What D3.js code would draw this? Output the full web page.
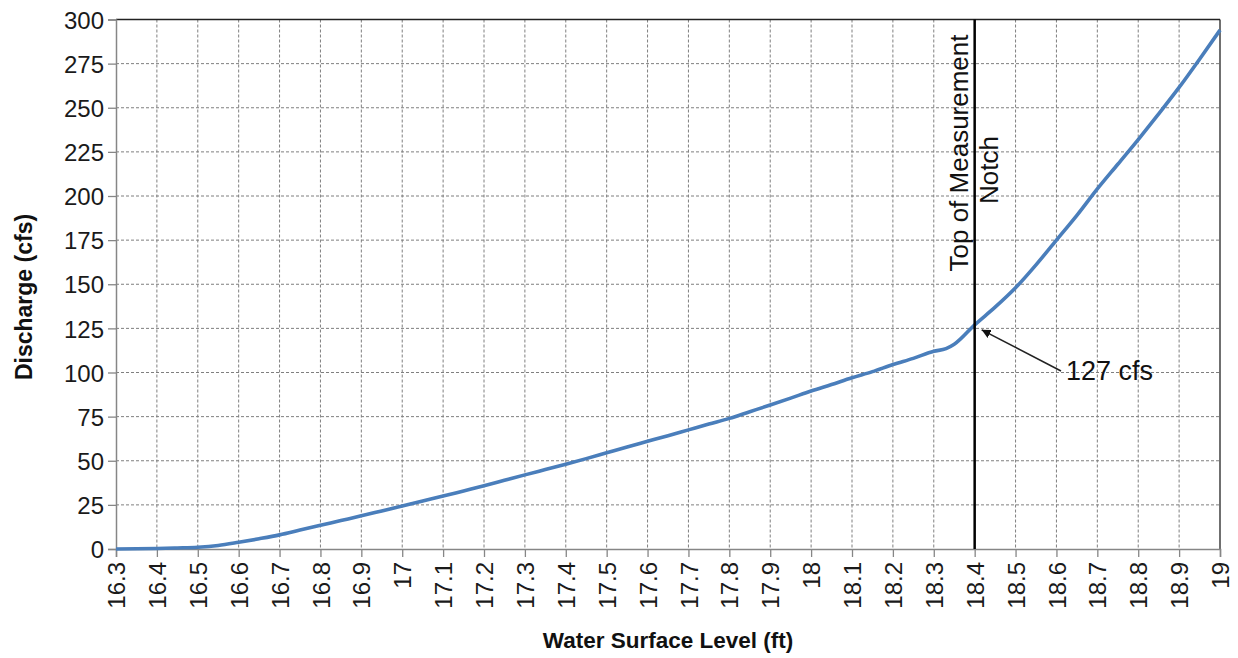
<!DOCTYPE html>
<html><head><meta charset="utf-8">
<script src="https://cdn.jsdelivr.net/npm/d3@7"></script>
<style>
html,body{margin:0;padding:0;background:#fff;}
svg{display:block;font-family:"Liberation Sans",Arial,sans-serif;}
</style></head>
<body>
<svg id="chart" width="1238" height="658"></svg>
<script>
// Data
const levels = [16.3,16.35,16.4,16.45,16.5,16.55,16.6,16.65,16.7,16.75,16.8,16.85,16.9,16.95,17.0,17.05,17.1,17.15,17.2,17.25,17.3,17.35,17.4,17.45,17.5,17.55,17.6,17.65,17.7,17.75,17.8,17.85,17.9,17.95,18.0,18.05,18.1,18.15,18.2,18.25,18.3,18.33,18.35,18.4,18.45,18.5,18.55,18.6,18.65,18.7,18.75,18.8,18.85,18.9,18.95,19.0];
const discharge = [0,0.1,0.3,0.6,1,2,3.8,5.8,8,10.7,13.4,16.1,18.8,21.6,24.4,27.2,30,32.9,35.8,38.9,42,45,48,51.2,54.5,57.8,61,64.2,67.5,70.8,74,77.8,81.6,85.5,89.5,93.2,97,100.5,104.5,108,112,113.5,116,127,137,148,161,175,189,204,218,232,246.5,261.5,277.5,294];
const xTicks = [16.3,16.4,16.5,16.6,16.7,16.8,16.9,17,17.1,17.2,17.3,17.4,17.5,17.6,17.7,17.8,17.9,18,18.1,18.2,18.3,18.4,18.5,18.6,18.7,18.8,18.9,19];
const yTicks = [0,25,50,75,100,125,150,175,200,225,250,275,300];
const notchLevel = [18.4];
const notchLabel = ["Top of Measurement","Notch"];
const annotation = {text:"127 cfs", x:18.4, y:127};

const svg = d3.select("#chart");
const L=116, R=1220, T=19.5, B=549;
const x = d3.scaleLinear().domain([16.3,19]).range([L,R]);
const y = d3.scaleLinear().domain([0,300]).range([B,T]);
const FONT = "'Liberation Sans',Arial,sans-serif";

// grid
const grid = svg.append("g");
grid.selectAll("line.v").data(xTicks.slice(1,-1)).enter().append("line")
  .attr("x1",d=>x(d)).attr("x2",d=>x(d)).attr("y1",T).attr("y2",B)
  .attr("stroke","#7f7f7f").attr("stroke-width",1).attr("stroke-dasharray","3,2");
grid.selectAll("line.h").data(yTicks.slice(1,-1)).enter().append("line")
  .attr("x1",L).attr("x2",R).attr("y1",d=>y(d)).attr("y2",d=>y(d))
  .attr("stroke","#7f7f7f").attr("stroke-width",1).attr("stroke-dasharray","3,2");

// top and right border
svg.append("line").attr("x1",L).attr("x2",R).attr("y1",T).attr("y2",T).attr("stroke","#222").attr("stroke-width",1.3);
svg.append("line").attr("x1",R).attr("x2",R).attr("y1",T).attr("y2",B).attr("stroke","#222").attr("stroke-width",1.3);

// axes
const yAxis = svg.append("g").attr("transform",`translate(${L},0)`)
  .call(d3.axisLeft(y).tickValues(yTicks).tickSize(8).tickPadding(4).tickFormat(d3.format("d")));
const xAxis = svg.append("g").attr("transform",`translate(0,${B})`)
  .call(d3.axisBottom(x).tickValues(xTicks).tickSize(8).tickFormat(d=>String(+d.toFixed(1))));
[yAxis,xAxis].forEach(a=>{
  a.select(".domain").attr("stroke","#868686").attr("stroke-width",1.5);
  a.selectAll(".tick line").attr("stroke","#868686").attr("stroke-width",1.3);
  a.selectAll("text").attr("fill","#1a1a1a").style("font-size","24px").style("font-family",FONT);
});
yAxis.selectAll("text").attr("dy","0.36em");
xAxis.selectAll("text")
  .attr("transform","rotate(-90)")
  .attr("text-anchor","end")
  .attr("x",-13).attr("y",0).attr("dy","0.36em");

// axis titles
svg.append("text").attr("transform",`translate(32,${297}) rotate(-90)`)
  .attr("text-anchor","middle").style("font-size","23px").style("font-weight","bold").attr("fill","#111")
  .text("Discharge (cfs)");
svg.append("text").attr("x",668).attr("y",648)
  .attr("text-anchor","middle").style("font-size","22.5px").style("font-weight","bold").attr("fill","#111")
  .text("Water Surface Level (ft)");

// curve
const pts = levels.map((l,i)=>[l,discharge[i]]);
svg.append("path").datum(pts)
  .attr("fill","none").attr("stroke","#4a7ebb").attr("stroke-width",3.6).attr("stroke-linejoin","round")
  .attr("d",d3.line().x(d=>x(d[0])).y(d=>y(d[1])).curve(d3.curveMonotoneX));

// notch line
svg.selectAll("line.notch").data(notchLevel).enter().append("line")
  .attr("x1",d=>x(d)).attr("x2",d=>x(d)).attr("y1",T).attr("y2",B)
  .attr("stroke","#000").attr("stroke-width",2.5);
const nx = x(notchLevel[0]);
svg.append("text").attr("transform",`translate(${nx-7},153) rotate(-90)`)
  .attr("text-anchor","middle").style("font-size","26px").attr("fill","#111").text(notchLabel[0]);
svg.append("text").attr("transform",`translate(${nx+23},170) rotate(-90)`)
  .attr("text-anchor","middle").style("font-size","26px").attr("fill","#111").text(notchLabel[1]);

// annotation arrow
svg.append("defs").append("marker").attr("id","ah").attr("viewBox","0 0 10 10")
  .attr("refX",10).attr("refY",5).attr("markerWidth",9).attr("markerHeight",9).attr("markerUnits","userSpaceOnUse")
  .attr("orient","auto")
  .append("path").attr("d","M0,0L10,5L0,10Z").attr("fill","#111");
const ax = x(annotation.x), ay = y(annotation.y);
svg.append("line").attr("x1",1061).attr("y1",371).attr("x2",ax+7).attr("y2",ay+5)
  .attr("stroke","#222").attr("stroke-width",1.5).attr("marker-end","url(#ah)");
svg.append("text").attr("x",1066).attr("y",380).style("font-size","27px").attr("fill","#111").text(annotation.text);
</script>
</body></html>
